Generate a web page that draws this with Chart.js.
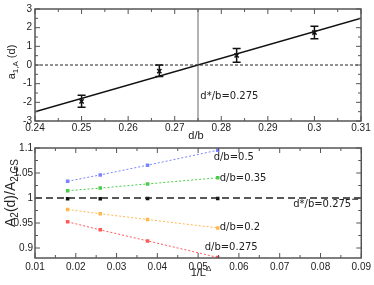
<!DOCTYPE html>
<html>
<head>
<meta charset="utf-8">
<script src="https://cdn.jsdelivr.net/npm/chart.js@4.4.1/dist/chart.umd.min.js"></script>
<style>
  body { margin: 0; background: #fff; }
  canvas { display: block; }
</style>
</head>
<body>
<div style="width:374px;height:140px"><canvas id="top"></canvas></div>
<div style="width:374px;height:145px"><canvas id="bottom"></canvas></div>
<script>
// top panel: a_1,A(d) vs d/b
const topX = [0.25, 0.2667, 0.2833, 0.3];
const topY = [-1.95, -0.33, 0.52, 1.74];
const topErrLo = [-2.26, -0.62, 0.15, 1.40];
const topErrHi = [-1.62, 0.0, 0.88, 2.08];
const fitX = [0.24, 0.31];
const fitY = [-2.5, 2.5];
const dStar = 0.275;
const topXTicks = [0.24, 0.25, 0.26, 0.27, 0.28, 0.29, 0.3, 0.31];
const topYTicks = [-3, -2, -1, 0, 1, 2, 3];

// bottom panel: A2(d)/A2,GS vs 1/L^Delta
const invL = [0.018, 0.026, 0.0376, 0.0548];
const ratio05 = [1.0334, 1.0462, 1.0656, 1.0955];
const ratio035 = [1.0146, 1.0198, 1.0282, 1.0404];
const ratio0275 = [0.9985, 0.9985, 0.999, 0.999];
const ratio02 = [0.9771, 0.9685, 0.9569, 0.9402];
const ratio0275b = [0.9524, 0.9363, 0.9142, 0.8812];
const botXTicks = [0.01, 0.02, 0.03, 0.04, 0.05, 0.06, 0.07, 0.08, 0.09];
const botYTicks = [0.9, 0.95, 1, 1.05, 1.1];

const SANS = "Liberation Sans";
const DEJA = "DejaVu Sans";
const fmt = v => String(parseFloat(v.toFixed(4)));
const pts = (xs, ys) => xs.map((x, i) => ({ x: x, y: ys[i] }));

// frame + inward major/minor ticks on all four sides
const framePlugin = {
  id: "frame",
  afterDraw(chart) {
    const { ctx, chartArea: a, scales } = chart;
    ctx.save();
    ctx.strokeStyle = "#555";
    ctx.lineWidth = 1.5;
    ctx.strokeRect(a.left, a.top, a.right - a.left, a.bottom - a.top);
    ctx.lineWidth = 1;
    const drawTicks = (scale, horiz) => {
      const vals = scale.ticks.map(t => t.value);
      const step = vals[1] - vals[0];
      const all = [];
      vals.forEach(v => all.push([v, 5]));
      for (let v = vals[0] - step / 2; v <= vals[vals.length - 1] + step / 2 + 1e-9; v += step) {
        if (v >= scale.min - 1e-9 && v <= scale.max + 1e-9) all.push([v, 3]);
      }
      all.forEach(([v, len]) => {
        const p = scale.getPixelForValue(v);
        ctx.beginPath();
        if (horiz) {
          ctx.moveTo(p, a.bottom); ctx.lineTo(p, a.bottom - len);
          ctx.moveTo(p, a.top); ctx.lineTo(p, a.top + len);
        } else {
          ctx.moveTo(a.left, p); ctx.lineTo(a.left + len, p);
          ctx.moveTo(a.right, p); ctx.lineTo(a.right - len, p);
        }
        ctx.stroke();
      });
    };
    drawTicks(scales.x, true);
    drawTicks(scales.y, false);
    ctx.restore();
  }
};

// text made of pieces: [text, "n" | "sub" | "sup"]
function richText(ctx, parts, x, y, size, rotate) {
  ctx.save();
  ctx.translate(x, y);
  if (rotate) ctx.rotate(-Math.PI / 2);
  const small = Math.round(size * 0.7);
  let w = 0;
  parts.forEach(([t, k]) => {
    ctx.font = (k === "n" ? size : small) + "px " + SANS;
    w += ctx.measureText(t).width;
  });
  let cx = -w / 2;
  ctx.fillStyle = "#222";
  ctx.textBaseline = "middle";
  ctx.textAlign = "left";
  parts.forEach(([t, k]) => {
    ctx.font = (k === "n" ? size : small) + "px " + SANS;
    const dy = k === "sub" ? size * 0.3 : k === "sup" ? -size * 0.35 : 0;
    ctx.fillText(t, cx, dy);
    cx += ctx.measureText(t).width;
  });
  ctx.restore();
}

function label(ctx, text, x, y) {
  ctx.save();
  ctx.font = "10px " + DEJA;
  ctx.fillStyle = "#222";
  ctx.textBaseline = "middle";
  ctx.fillText(text, x, y);
  ctx.restore();
}

const commonScale = (ticks, min, max, pad, fit) => ({
  type: "linear",
  min: min,
  max: max,
  grid: { display: false, drawTicks: false },
  border: { display: false },
  afterBuildTicks: s => { s.ticks = ticks.map(v => ({ value: v })); },
  afterFit: fit,
  ticks: {
    padding: pad,
    color: "#222",
    font: { family: SANS, size: 10 },
    callback: v => fmt(v),
    maxRotation: 0,
    autoSkip: false
  }
});

// ---------- top chart ----------
const errorBarPlugin = {
  id: "errbars",
  afterDatasetsDraw(chart) {
    const { ctx, scales: { x, y } } = chart;
    ctx.save();
    ctx.strokeStyle = "#111";
    ctx.lineWidth = 1.5;
    topX.forEach((v, i) => {
      const px = x.getPixelForValue(v);
      const lo = y.getPixelForValue(topErrLo[i]);
      const hi = y.getPixelForValue(topErrHi[i]);
      ctx.beginPath();
      ctx.moveTo(px, lo); ctx.lineTo(px, hi);
      ctx.moveTo(px - 4, lo); ctx.lineTo(px + 4, lo);
      ctx.moveTo(px - 4, hi); ctx.lineTo(px + 4, hi);
      ctx.stroke();
    });
    ctx.restore();
  },
  afterDraw(chart) {
    const { ctx, scales: { x, y } } = chart;
    richText(ctx, [["a", "n"], ["1,A", "sub"], [" (d)", "n"]], 12, 62, 11, true);
    richText(ctx, [["d/b", "n"]], 196, 136, 11, false);
    label(ctx, "d*/b=0.275", x.getPixelForValue(0.2755), y.getPixelForValue(-1.7));
  }
};

new Chart(document.getElementById("top"), {
  type: "scatter",
  data: {
    datasets: [
      { data: [{ x: 0.24, y: 0 }, { x: 0.31, y: 0 }], showLine: true, borderColor: "#222",
        borderWidth: 1, borderDash: [3, 2], pointRadius: 0 },
      { data: [{ x: dStar, y: -3 }, { x: dStar, y: 3 }], showLine: true, borderColor: "#666",
        borderWidth: 1, pointRadius: 0 },
      { data: pts(fitX, fitY), showLine: true, borderColor: "#111", borderWidth: 1.5, pointRadius: 0 },
      { data: pts(topX, topY), pointStyle: "crossRot", pointRadius: 3, borderColor: "#111",
        borderWidth: 1.5, backgroundColor: "#111" }
    ]
  },
  options: {
    responsive: true,
    maintainAspectRatio: false,
    animation: false,
    layout: { padding: { top: 5, right: 13, left: 0, bottom: 0 } },
    plugins: { legend: { display: false }, tooltip: { enabled: false } },
    scales: {
      x: commonScale(topXTicks, 0.24, 0.31, 1, s => { s.height = 19; }),
      y: commonScale(topYTicks, -3, 3, 3, s => { s.width = 35; })
    }
  },
  plugins: [framePlugin, errorBarPlugin]
});

// ---------- bottom chart ----------
const botLabels = [
  ["d/b=0.5", 0.0538, 1.0806],
  ["d/b=0.35", 0.0553, 1.0398],
  ["d*/b=0.275", 0.0733, 0.9874],
  ["d/b=0.2", 0.0553, 0.9408],
  ["d/b=0.275", 0.0516, 0.9004]
];

const botTextPlugin = {
  id: "bottext",
  afterDraw(chart) {
    const { ctx, scales: { x, y } } = chart;
    richText(ctx, [["A", "n"], ["2", "sub"], ["(d)/A", "n"], ["2,GS", "sub"]], 11, 53, 14, true);
    richText(ctx, [["1/L", "n"], ["\u0394", "sup"]], 201, 133, 11, false);
    botLabels.forEach(([t, vx, vy]) => label(ctx, t, x.getPixelForValue(vx), y.getPixelForValue(vy)));
    ctx.save();
    ctx.strokeStyle = "#222";
    ctx.lineWidth = 1;
    const px = x.getPixelForValue(0.0885);
    const py = y.getPixelForValue(0.9975);
    ctx.beginPath(); ctx.moveTo(px - 3, py); ctx.lineTo(px + 3, py); ctx.stroke();
    ctx.restore();
  }
};

const series = (ys, color) => ({
  data: pts(invL, ys), showLine: true, borderColor: color, backgroundColor: color,
  borderWidth: 1, borderDash: [2, 2], pointStyle: "rect", pointRadius: 2.5, pointBorderWidth: 0
});

new Chart(document.getElementById("bottom"), {
  type: "scatter",
  data: {
    datasets: [
      { data: [{ x: 0.01, y: 1 }, { x: 0.09, y: 1 }], showLine: true, borderColor: "#222",
        borderWidth: 1.3, borderDash: [7, 4], pointRadius: 0 },
      series(ratio05, "#7884ff"),
      series(ratio035, "#4ccc4c"),
      series(ratio02, "#ffb84d"),
      series(ratio0275b, "#ff5a5a"),
      { data: pts(invL, ratio0275), pointStyle: "rect", pointRadius: 2.5, backgroundColor: "#111",
        borderWidth: 0 }
    ]
  },
  options: {
    responsive: true,
    maintainAspectRatio: false,
    animation: false,
    layout: { padding: { top: 5, right: 12, left: 0, bottom: 0 } },
    plugins: { legend: { display: false }, tooltip: { enabled: false } },
    scales: {
      x: commonScale(botXTicks, 0.01, 0.09, 3, s => { s.height = 27; }),
      y: commonScale(botYTicks, 0.88, 1.1, 2, s => { s.width = 35; })
    }
  },
  plugins: [framePlugin, botTextPlugin]
});
</script>
</body>
</html>
